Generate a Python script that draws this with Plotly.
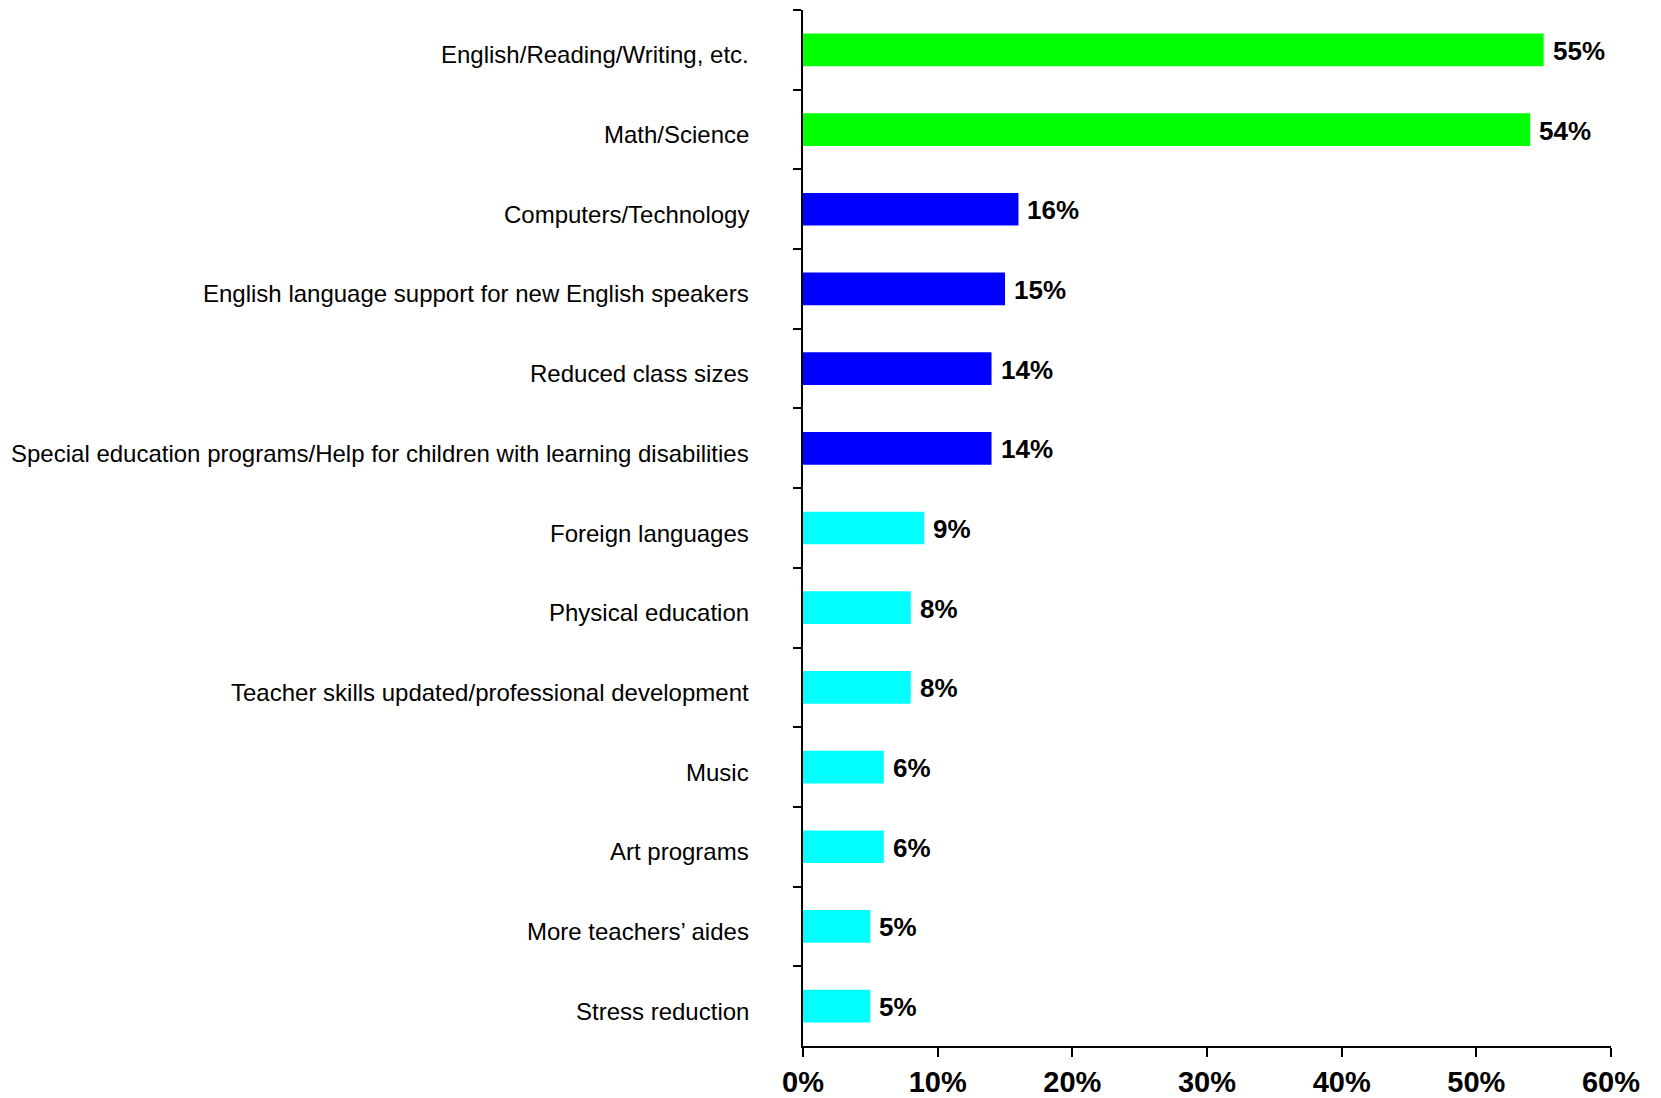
import plotly.graph_objects as go

categories = [
    "English/Reading/Writing, etc.",
    "Math/Science",
    "Computers/Technology",
    "English language support for new English speakers",
    "Reduced class sizes",
    "Special education programs/Help for children with learning disabilities",
    "Foreign languages",
    "Physical education",
    "Teacher skills updated/professional development",
    "Music",
    "Art programs",
    "More teachers\u2019 aides",
    "Stress reduction",
]
values = [55, 54, 16, 15, 14, 14, 9, 8, 8, 6, 6, 5, 5]
groups = ["top", "top", "mid", "mid", "mid", "mid",
          "low", "low", "low", "low", "low", "low", "low"]
group_colors = {"top": "#00FF00", "mid": "#0000FF", "low": "#00FFFF"}
x_ticks = [0, 10, 20, 30, 40, 50, 60]
x_tick_labels = ["0%", "10%", "20%", "30%", "40%", "50%", "60%"]

FONT = "Liberation Sans, Arial, sans-serif"

fig = go.Figure()
fig.add_trace(go.Bar(
    x=values,
    y=categories,
    orientation="h",
    width=0.41,
    marker=dict(color=[group_colors[g] for g in groups], line=dict(width=0)),
    hoverinfo="x+y",
))

# value labels
for c, v in zip(categories, values):
    fig.add_annotation(
        x=v, y=c, xref="x", yref="y",
        text=f"<b>{v}%</b>", showarrow=False,
        xanchor="left", yanchor="middle", xshift=7, yshift=-1,
        font=dict(family=FONT, size=26, color="black"),
    )

# category labels (slightly below bar centres, as in the original)
for c in categories:
    fig.add_annotation(
        x=0, y=c, xref="paper", yref="y",
        text=c, showarrow=False,
        xanchor="right", yanchor="middle", xshift=-52, yshift=-5,
        font=dict(family=FONT, size=24, color="black"),
    )

# page body adds an 8px offset; figure sized to fit the 1661x1098 window
fig.update_layout(
    width=1653, height=1090,
    margin=dict(l=795, r=50, t=2, b=52, autoexpand=False),
    paper_bgcolor="white", plot_bgcolor="white",
    showlegend=False,
    font=dict(family=FONT, color="black"),
)
fig.update_xaxes(
    range=[0, 60],
    tickvals=x_ticks, ticktext=x_tick_labels,
    showgrid=False, zeroline=False,
    showline=True, linecolor="black", linewidth=2,
    ticks="outside", ticklen=9, tickwidth=2, tickcolor="black",
    tickfont=dict(family=FONT, size=29, color="black", weight="bold"),
    ticklabelstandoff=0,
    fixedrange=True,
)
fig.update_yaxes(
    autorange=False, range=[12.5, -0.5],
    categoryorder="array", categoryarray=categories,
    showgrid=False, zeroline=False,
    showline=True, linecolor="black", linewidth=2,
    ticks="outside", ticklen=8, tickwidth=2, tickcolor="black",
    tickson="boundaries",
    showticklabels=False,
    fixedrange=True,
)

fig.write_html("out.html")
